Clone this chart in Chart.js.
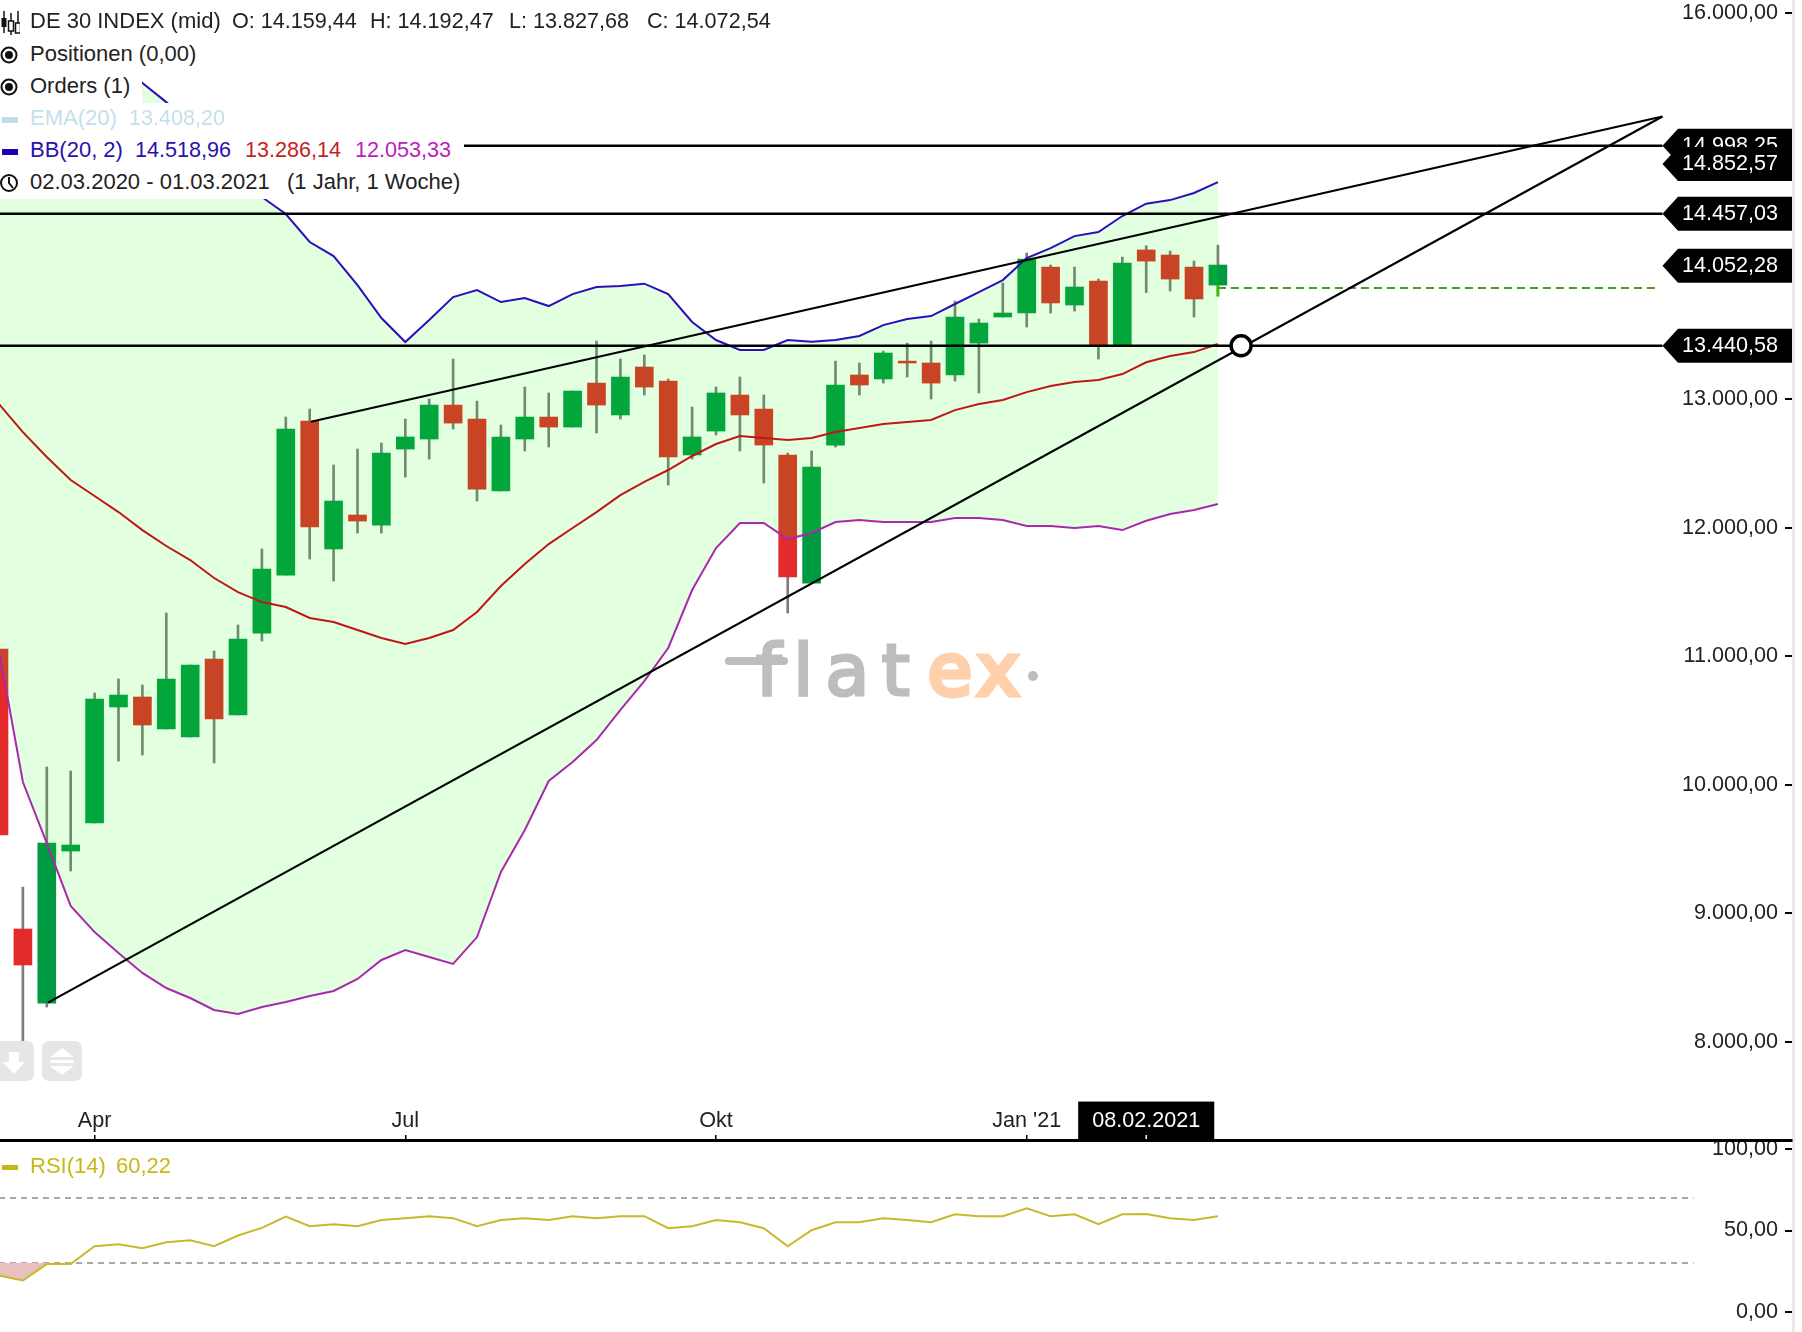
<!DOCTYPE html>
<html>
<head>
<meta charset="utf-8">
<title>DE 30 INDEX</title>
<script src="https://cdn.jsdelivr.net/npm/chart.js@4"></script>
<style>
    html, body { margin: 0; padding: 0; background: #fff; }
    body { width: 1802px; height: 1332px; overflow: hidden; position: relative; font: 22px "Liberation Sans", Arial, sans-serif; color: #222; }
    canvas { position: absolute; left: 0; }
    #priceCanvas { top: 0; }
    #rsiCanvas { top: 1142px; }
    #rightStrip { position: absolute; left: 1792px; top: 0; width: 2.5px; height: 1332px; background: #e8e8e8; }
    .row { position: absolute; left: 0; height: 32px; background: #fff; line-height: 30px; white-space: nowrap; }
    .row span { position: absolute; top: 0; }
    .row .num { font-size: 21.6px; }
    .icon { position: absolute; left: 0; top: 6px; }
    .btn { position: absolute; top: 1041px; height: 40px; background: #e6e6e6; border-radius: 7px; }
    #watermark { position: absolute; left: 756px; top: 620px; font: 72px "DejaVu Sans", sans-serif; letter-spacing: 12px; color: #bdbdbd; -webkit-text-stroke: 3px #bdbdbd; white-space: nowrap; line-height: 100px; }
    #watermark b { margin-left: 6px; color: #ffd0ac; -webkit-text-stroke: 5px #ffd0ac; font-weight: normal; letter-spacing: 6px; }
    #wmDash { position: absolute; left: 725px; top: 657px; width: 63px; height: 8px; border-radius: 4px; background: #bdbdbd; }
    #wmDot { position: absolute; left: 1028px; top: 671px; width: 10px; height: 10px; border-radius: 5px; background: #bdbdbd; }
    #rsiLegend { position: absolute; left: 0; top: 1151px; height: 32px; line-height: 30px; color: #c8b618; }
    #rsiLegend span { position: absolute; top: 0; white-space: nowrap; }
</style>
</head>
<body>
<div id="rightStrip"></div>
<div id="wmDash"></div>
<div id="watermark">flat<b>ex</b></div>
<div id="wmDot"></div>
<canvas id="rsiCanvas" width="1802" height="190"></canvas>
<canvas id="priceCanvas" width="1802" height="1145"></canvas>

<div class="row" style="top:0;height:39px;line-height:41px;width:780px">
    <svg class="icon" style="top:11px" width="20" height="24"><path d="M4 0v22M11 2v22M18 0v22" stroke="#111" stroke-width="1.5"/><rect x="1.5" y="7" width="5" height="9" fill="#111"/><rect x="8.5" y="10" width="5" height="10" fill="#fff" stroke="#111" stroke-width="1.5"/><rect x="15.5" y="12" width="5" height="10" fill="#fff" stroke="#111" stroke-width="1.5"/></svg>
    <span style="left:30px">DE 30 INDEX (mid)</span>
    <span class="num" style="left:232px">O: 14.159,44</span>
    <span class="num" style="left:370px">H: 14.192,47</span>
    <span class="num" style="left:509px">L: 13.827,68</span>
    <span class="num" style="left:647px">C: 14.072,54</span>
</div>
<div class="row" style="top:39px;width:200px">
    <svg class="icon" width="20" height="20"><circle cx="9" cy="10" r="7.5" fill="none" stroke="#111" stroke-width="2"/><circle cx="9" cy="10" r="4" fill="#111"/></svg>
    <span style="left:30px">Positionen (0,00)</span>
</div>
<div class="row" style="top:71px;width:142px">
    <svg class="icon" width="20" height="20"><circle cx="9" cy="10" r="7.5" fill="none" stroke="#111" stroke-width="2"/><circle cx="9" cy="10" r="4" fill="#111"/></svg>
    <span style="left:30px">Orders (1)</span>
</div>
<div class="row" style="top:103px;width:232px;color:#c3e0ec">
    <svg class="icon" width="20" height="20"><rect x="2" y="8" width="16" height="6" fill="#bfddea"/></svg>
    <span style="left:30px">EMA(20)</span>
    <span class="num" style="left:129px">13.408,20</span>
</div>
<div class="row" style="top:135px;width:464px">
    <svg class="icon" width="20" height="20"><rect x="2" y="8" width="16" height="6" fill="#2000b0"/></svg>
    <span style="left:30px;color:#2a10b0">BB(20, 2)</span>
    <span class="num" style="left:135px;color:#2a10b0">14.518,96</span>
    <span class="num" style="left:245px;color:#c81e1e">13.286,14</span>
    <span class="num" style="left:355px;color:#b81eb8">12.053,33</span>
</div>
<div class="row" style="top:167px;width:470px">
    <svg class="icon" width="20" height="20"><circle cx="9" cy="10" r="8" fill="none" stroke="#111" stroke-width="2"/><path d="M9 4v6l4 5" fill="none" stroke="#111" stroke-width="2"/></svg>
    <span style="left:30px">02.03.2020 - 01.03.2021</span>
    <span style="left:287px">(1 Jahr, 1 Woche)</span>
</div>

<div class="btn" style="left:-6px;width:40px">
    <svg width="40" height="40"><path d="M15 11h10v10h6L20 33 9 21h6z" fill="#fff"/></svg>
</div>
<div class="btn" style="left:42px;width:40px">
    <svg width="40" height="40"><path d="M20 7l12 9H8zM8 19h24v3H8zM8 25h24l-12 9z" fill="#fff"/></svg>
</div>

<div id="rsiLegend">
    <svg style="position:absolute;left:0;top:6px" width="20" height="20"><rect x="2" y="8" width="16" height="5" fill="#c8b618"/></svg>
    <span style="left:30px">RSI(14)</span>
    <span style="left:116px">60,22</span>
</div>

<script>
var weekLabels = [
    '02.03.2020', '09.03.2020', '16.03.2020', '23.03.2020', '30.03.2020',
    '06.04.2020', '13.04.2020', '20.04.2020', '27.04.2020',
    '04.05.2020', '11.05.2020', '18.05.2020', '25.05.2020',
    '01.06.2020', '08.06.2020', '15.06.2020', '22.06.2020', '29.06.2020',
    '06.07.2020', '13.07.2020', '20.07.2020', '27.07.2020',
    '03.08.2020', '10.08.2020', '17.08.2020', '24.08.2020', '31.08.2020',
    '07.09.2020', '14.09.2020', '21.09.2020', '28.09.2020',
    '05.10.2020', '12.10.2020', '19.10.2020', '26.10.2020',
    '02.11.2020', '09.11.2020', '16.11.2020', '23.11.2020', '30.11.2020',
    '07.12.2020', '14.12.2020', '21.12.2020',
    '04.01.2021', '11.01.2021', '18.01.2021', '25.01.2021',
    '01.02.2021', '08.02.2021', '15.02.2021', '22.02.2021', '01.03.2021'
];

var opens = [11056, 8879, 8303, 9485, 9703, 10605, 10683, 10434, 10372, 10978, 10543, 11180, 11631, 12829, 11834, 12098, 12020, 12611, 12689, 12953, 12844, 12285, 12689, 12860, 12782, 13124, 12876, 13249, 13140, 12565, 12751, 13031, 12922, 12565, 11569, 12642, 13187, 13156, 13295, 13280, 13187, 13435, 13638, 13669, 14026, 13731, 13918, 13412, 14159.44, 14120, 14026, 13886];
var highs = [11056, 9205, 10138, 10107, 10714, 10823, 10776, 11336, 10932, 11040, 11243, 11834, 12860, 12922, 12487, 12611, 12658, 12844, 13000, 13311, 12984, 12798, 13093, 13047, 13062, 13451, 13311, 13342, 13156, 12938, 13093, 13171, 13031, 12580, 12596, 13295, 13280, 13373, 13435, 13451, 13762, 13622, 13902, 14135, 14042, 14026, 13933, 14104, 14192.47, 14151, 14073, 14197];
var lows = [9610, 7984, 8272, 9330, 9703, 10185, 10232, 10434, 10372, 10170, 10543, 11118, 11631, 11756, 11585, 11958, 11958, 12393, 12533, 12767, 12207, 12285, 12596, 12627, 12782, 12736, 12844, 13031, 12331, 12533, 12720, 12596, 12347, 11336, 11569, 12627, 13031, 13124, 13171, 13000, 13140, 13047, 13638, 13560, 13669, 13684, 13311, 13412, 13827.68, 13840, 13638, 13801];
var closes = [9610, 8599, 9547, 9532, 10667, 10698, 10465, 10823, 10932, 10512, 11134, 11678, 12767, 12005, 12207, 12051, 12580, 12705, 12953, 12813, 12300, 12705, 12860, 12782, 13062, 12953, 13171, 13093, 12549, 12705, 13047, 12876, 12642, 11616, 12471, 13109, 13109, 13358, 13280, 13124, 13638, 13591, 13669, 14089, 13747, 13871, 13412, 14058, 14072.54, 13933, 13778, 14042];

var bbUpper = [16258, 16180, 16141, 15963, 15792, 15620, 15457, 15309, 15131, 14858, 14695, 14571, 14439, 14221, 14112, 13886, 13630, 13443, 13614, 13793, 13848, 13754, 13785, 13723, 13816, 13871, 13879, 13897, 13816, 13599, 13459, 13381, 13381, 13459, 13446, 13459, 13490, 13575, 13622, 13645, 13739, 13832, 13925, 14096, 14174, 14267, 14299, 14423, 14518.96, 14547, 14602, 14687];
var bbMiddle = [12961, 12743, 12549, 12370, 12246, 12121, 11981, 11857, 11748, 11608, 11499, 11421, 11383, 11297, 11266, 11204, 11142, 11095, 11142, 11204, 11344, 11546, 11717, 11872, 11997, 12121, 12253, 12355, 12448, 12557, 12650, 12712, 12697, 12681, 12697, 12743, 12774, 12806, 12821, 12837, 12914, 12961, 12992, 13054, 13101, 13132, 13148, 13194, 13286.14, 13334, 13365, 13428];
var bbLower = [11048, 10022, 9547, 9058, 8855, 8692, 8537, 8420, 8342, 8249, 8218, 8272, 8311, 8358, 8397, 8490, 8638, 8715, 8661, 8607, 8816, 9322, 9649, 10030, 10177, 10348, 10582, 10807, 11064, 11515, 11841, 12036, 12036, 11911, 11958, 12044, 12059, 12044, 12044, 12044, 12075, 12075, 12059, 12012, 12012, 11997, 12012, 11981, 12053.33, 12106, 12137, 12184];
var rsiValues = [22.3, 19.2, 29.3, 29.3, 40.3, 41.6, 39.1, 42.8, 44.0, 40.3, 46.9, 51.6, 58.6, 52.6, 53.9, 52.6, 56.4, 57.6, 58.8, 57.6, 52.6, 56.4, 57.6, 56.4, 58.8, 57.6, 58.8, 58.8, 51.4, 52.6, 56.4, 55.1, 51.4, 40.3, 50.2, 55.1, 55.1, 57.6, 56.4, 55.1, 60.0, 58.8, 58.8, 63.7, 58.8, 60.0, 53.9, 60.0, 60.22, 57.6, 56.4, 58.8];

var priceTicks = [8000, 9000, 10000, 11000, 12000, 13000, 16000];
var rsiTicks = [0, 50, 100];
var rsiBands = [30, 70];
var xTickDates = ['30.03.2020', '29.06.2020', '28.09.2020', '04.01.2021', '08.02.2021'];
var xTickLabels = ['Apr', 'Jul', 'Okt', "Jan '21", '08.02.2021'];

// drawn lines on the price pane, x is in week index
var hLineLevels = [14970, 14441, 13414];
var hLineEnd = 69.6;
var supportLine = [{ x: 2.05, y: 8306 }, { x: 69.6, y: 15197 }];
var resistanceLine = [{ x: 13.05, y: 12823 }, { x: 69.6, y: 15197 }];
var ringPoint = [{ x: 51.97, y: 13414 }];
var orderLine = [{ x: 51, y: 13863 }, { x: 69.4, y: 13863 }];
var orderMark = [{ x: 51, y: [13801, 13886] }];

var tagLevels = [14970, 14827, 14441, 14036, 13414];
var tagLabels = ['14.998,25', '14.852,57', '14.457,03', '14.052,28', '13.440,58'];

var RED = '#e32b2b';
var GREEN = '#009a43';
var WICK = '#7c7c7c';
var FONT = { family: '"Liberation Sans", Arial, sans-serif', size: 21.6 };
var X_MIN = 0.042;
var X_MAX = 75.02;

function formatDE(v) {
    return v.toLocaleString('de-DE', { minimumFractionDigits: 2, maximumFractionDigits: 2 });
}

function seriesPoints(values) {
    return values.map(function (v, i) { return { x: i, y: v }; });
}

function hLine(level) {
    return {
        type: 'line', data: [{ x: 0, y: level }, { x: hLineEnd, y: level }], order: 2,
        borderColor: '#000', borderWidth: 2.5, pointRadius: 0, tension: 0
    };
}

function rsiBandLine(level) {
    return {
        type: 'line', data: [{ x: 0, y: level }, { x: 70.9, y: level }], order: 3,
        borderColor: '#a9a9a9', borderWidth: 2, borderDash: [6, 5], pointRadius: 0
    };
}

var xTickIndexes = xTickDates.map(function (d) { return weekLabels.indexOf(d); });
var markedTick = xTickIndexes[xTickIndexes.length - 1];

// right hand price tags, same look as the trading platform
var priceTagPlugin = {
    id: 'priceTags',
    afterDraw: function (chart) {
        var ctx = chart.ctx;
        var yScale = chart.scales.y;
        var xScale = chart.scales.x;
        ctx.save();
        ctx.font = FONT.size + 'px ' + FONT.family;
        ctx.textAlign = 'right';
        ctx.textBaseline = 'middle';
        tagLevels.forEach(function (level, i) {
            var y = yScale.getPixelForValue(level);
            ctx.fillStyle = '#000';
            ctx.beginPath();
            ctx.moveTo(1662.5, y);
            ctx.lineTo(1678, y - 17);
            ctx.lineTo(1792, y - 17);
            ctx.lineTo(1792, y + 17);
            ctx.lineTo(1678, y + 17);
            ctx.closePath();
            ctx.fill();
            ctx.fillStyle = '#fff';
            ctx.fillText(tagLabels[i], 1778, y);
        });
        // tick of the marked date sits on the black label
        ctx.fillStyle = '#fff';
        ctx.fillRect(xScale.getPixelForValue(markedTick) - 0.75, xScale.top - 5, 1.5, 4);
        ctx.restore();
    }
};

new Chart(document.getElementById('priceCanvas'), {
    type: 'bar',
    plugins: [priceTagPlugin],
    data: {
        datasets: [
            {
                type: 'line', label: 'BB upper', data: seriesPoints(bbUpper), order: 5,
                borderColor: '#2a10b8', borderWidth: 2, pointRadius: 0, tension: 0,
                fill: '+1', backgroundColor: 'rgba(20, 255, 0, 0.12)'
            },
            {
                type: 'line', label: 'BB lower', data: seriesPoints(bbLower), order: 5,
                borderColor: '#b41bb8', borderWidth: 2, pointRadius: 0, tension: 0
            },
            {
                type: 'line', label: 'BB middle', data: seriesPoints(bbMiddle), order: 4,
                borderColor: '#c21616', borderWidth: 2, pointRadius: 0, tension: 0
            },
            {
                label: 'wicks', order: 10, barThickness: 2, grouped: false,
                data: weekLabels.map(function (w, i) { return { x: i, y: [lows[i], highs[i]] }; }),
                backgroundColor: WICK
            },
            {
                label: 'bodies', order: 9, barThickness: 18, grouped: false,
                data: weekLabels.map(function (w, i) { return { x: i, y: [opens[i], closes[i]] }; }),
                backgroundColor: opens.map(function (o, i) { return closes[i] >= o ? GREEN : RED; })
            },
            { label: 'order mark', order: 8, barThickness: 2, grouped: false, data: orderMark, backgroundColor: '#3db800' },
            {
                type: 'line', label: 'order', data: orderLine, order: 3,
                borderColor: '#4a9a2a', borderWidth: 2, borderDash: [8, 5], pointRadius: 0
            },
            hLine(hLineLevels[0]),
            hLine(hLineLevels[1]),
            hLine(hLineLevels[2]),
            { type: 'line', data: supportLine, order: 2, borderColor: '#000', borderWidth: 2.2, pointRadius: 0 },
            { type: 'line', data: resistanceLine, order: 2, borderColor: '#000', borderWidth: 2.2, pointRadius: 0 },
            {
                type: 'line', data: ringPoint, order: 1, showLine: false,
                pointRadius: 10, pointBackgroundColor: '#fff', pointBorderColor: '#000', pointBorderWidth: 3.5
            }
        ]
    },
    options: {
        responsive: false,
        animation: false,
        devicePixelRatio: 1,
        layout: { padding: 0, autoPadding: false },
        plugins: { legend: { display: false }, tooltip: { enabled: false } },
        scales: {
            x: {
                type: 'linear', min: X_MIN, max: X_MAX, offset: false,
                border: { color: '#000', width: 3 },
                grid: { offset: false, drawOnChartArea: false, tickLength: -5, color: '#000', lineWidth: 1.5 },
                afterFit: function (scale) { scale.height = 5; scale.paddingLeft = 0; scale.paddingRight = 0; },
                afterBuildTicks: function (scale) {
                    scale.ticks = xTickIndexes.map(function (v) { return { value: v }; });
                },
                ticks: {
                    autoSkip: false, maxRotation: 0, minRotation: 0, mirror: true, padding: 5.5,
                    font: FONT,
                    color: function (c) { return c.tick && c.tick.value === markedTick ? '#fff' : '#222'; },
                    showLabelBackdrop: true,
                    backdropColor: function (c) { return c.tick && c.tick.value === markedTick ? '#000' : 'rgba(0,0,0,0)'; },
                    backdropPadding: { x: 14, y: 7 },
                    callback: function (v) { return xTickLabels[xTickIndexes.indexOf(v)]; }
                }
            },
            y: {
                position: 'right', min: 7238, max: 16103,
                border: { display: false },
                grid: { drawOnChartArea: false, tickLength: -7, color: '#000', lineWidth: 2 },
                afterFit: function (scale) { scale.width = 10; scale.paddingTop = 0; scale.paddingBottom = 0; },
                afterBuildTicks: function (scale) {
                    scale.ticks = priceTicks.map(function (v) { return { value: v }; });
                },
                ticks: { mirror: true, padding: -14, font: FONT, color: '#222', callback: formatDE }
            }
        }
    }
});

new Chart(document.getElementById('rsiCanvas'), {
    type: 'line',
    data: {
        datasets: [
            {
                label: 'RSI', data: seriesPoints(rsiValues), order: 1,
                borderColor: '#c9b92a', borderWidth: 2, pointRadius: 0, tension: 0,
                fill: { target: { value: 30 }, above: 'rgba(0,0,0,0)', below: '#e9c0c0' }
            },
            rsiBandLine(rsiBands[0]),
            rsiBandLine(rsiBands[1])
        ]
    },
    options: {
        responsive: false,
        animation: false,
        devicePixelRatio: 1,
        layout: { padding: 0, autoPadding: false },
        plugins: { legend: { display: false }, tooltip: { enabled: false } },
        scales: {
            x: { type: 'linear', min: X_MIN, max: X_MAX, display: false },
            y: {
                position: 'right', min: -12.5, max: 104.5,
                border: { display: false },
                grid: { drawOnChartArea: false, tickLength: -7, color: '#000', lineWidth: 2 },
                afterFit: function (scale) { scale.width = 10; scale.paddingTop = 0; scale.paddingBottom = 0; },
                afterBuildTicks: function (scale) {
                    scale.ticks = rsiTicks.map(function (v) { return { value: v }; });
                },
                ticks: { mirror: true, padding: -14, font: FONT, color: '#222', callback: formatDE }
            }
        }
    }
});
</script>
</body>
</html>
